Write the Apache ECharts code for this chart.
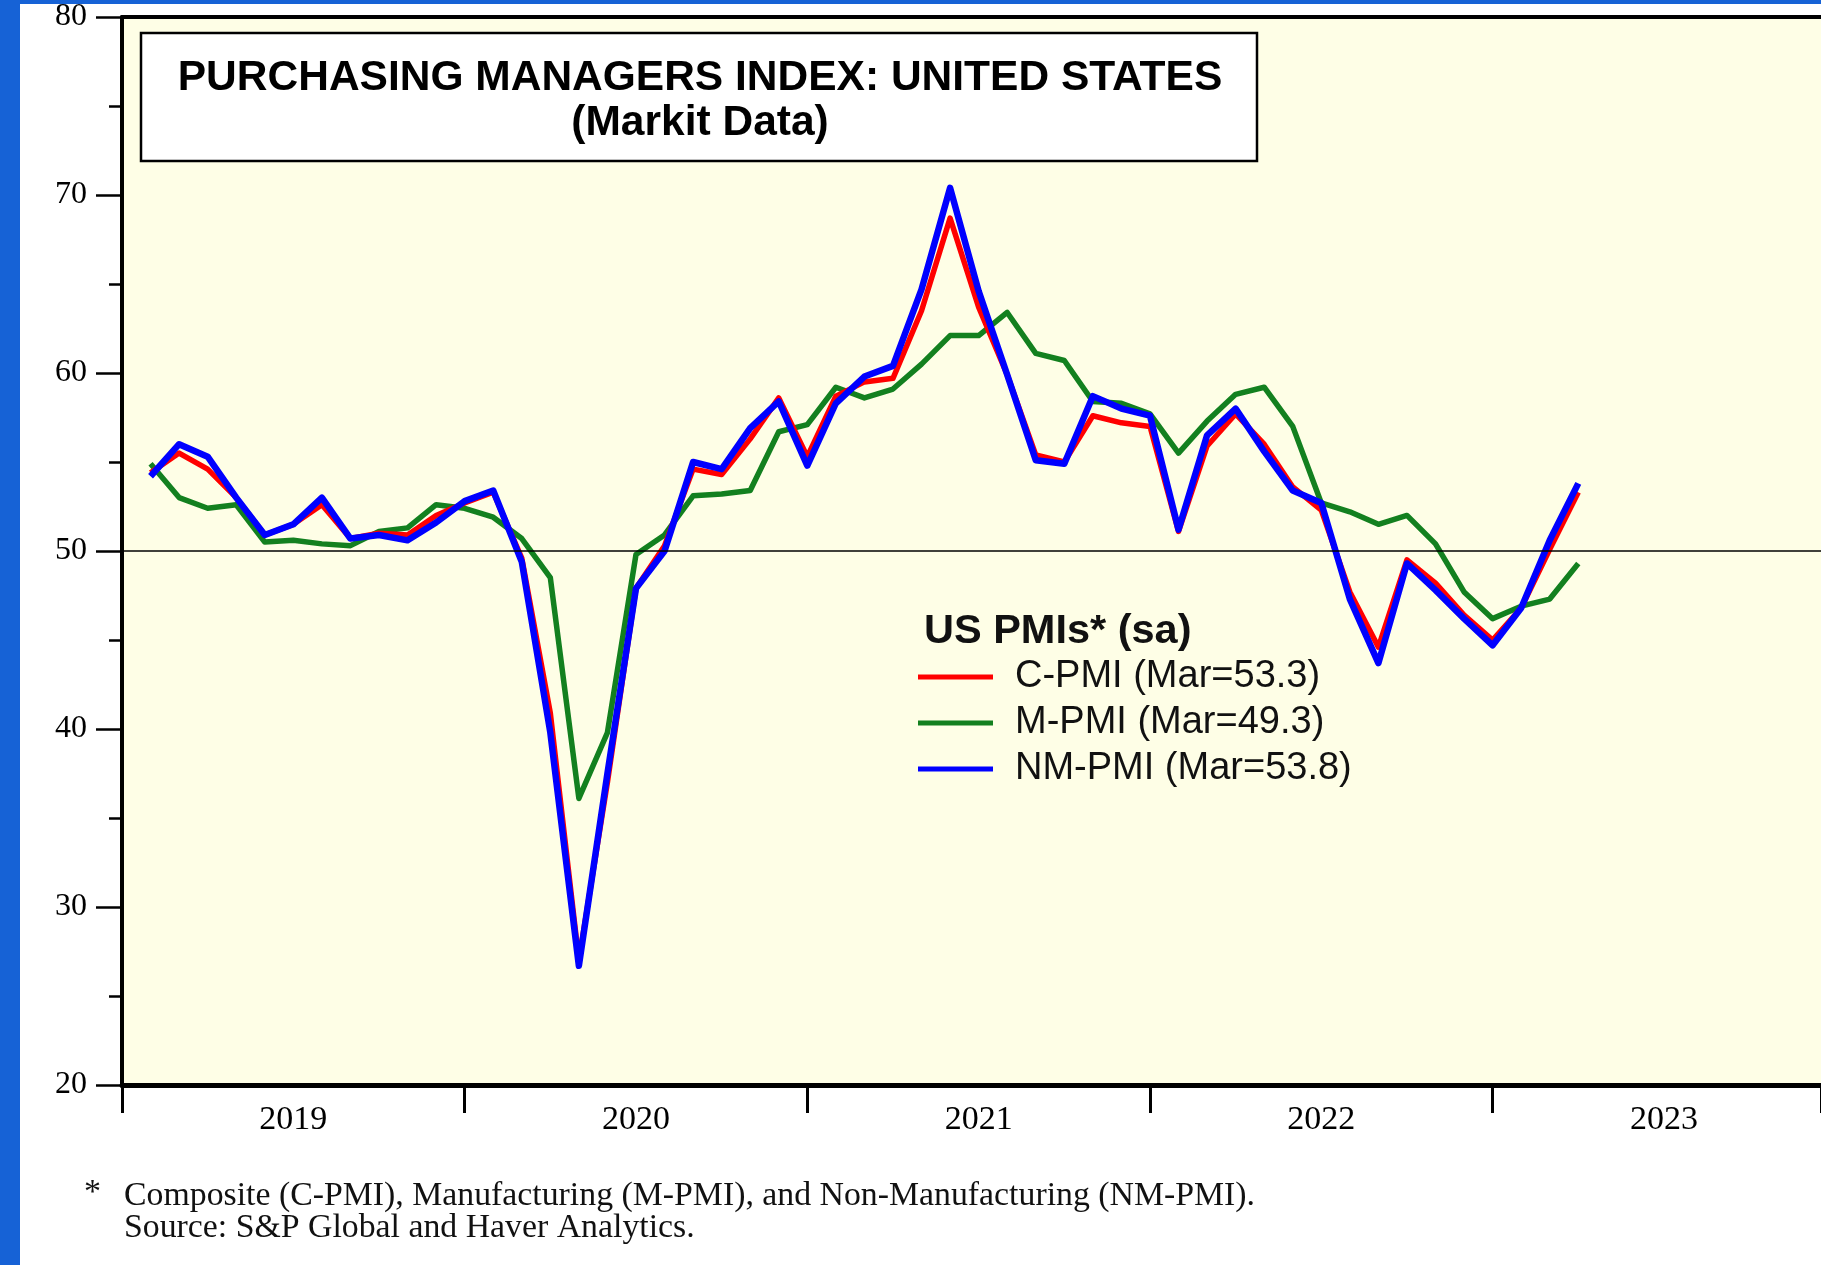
<!DOCTYPE html>
<html>
<head>
<meta charset="utf-8">
<script src="https://cdn.jsdelivr.net/npm/echarts/dist/echarts.min.js"></script>
<style>
html,body{margin:0;padding:0;background:#fff;width:1821px;height:1265px;overflow:hidden;}
#frameL{position:absolute;left:0;top:0;width:20px;height:1265px;background:#1662d6;}
#frameT{position:absolute;left:0;top:0;width:1821px;height:4px;background:#1662d6;}
#chart{position:absolute;left:0;top:0;width:1821px;height:1265px;}
</style>
</head>
<body>
<div id="frameL"></div><div id="frameT"></div><div id="chart"></div>
<script>
// ---- data (monthly, seasonally adjusted) ----
const months = [
  '2019-01','2019-02','2019-03','2019-04','2019-05','2019-06','2019-07','2019-08','2019-09','2019-10','2019-11','2019-12',
  '2020-01','2020-02','2020-03','2020-04','2020-05','2020-06','2020-07','2020-08','2020-09','2020-10','2020-11','2020-12',
  '2021-01','2021-02','2021-03','2021-04','2021-05','2021-06','2021-07','2021-08','2021-09','2021-10','2021-11','2021-12',
  '2022-01','2022-02','2022-03','2022-04','2022-05','2022-06','2022-07','2022-08','2022-09','2022-10','2022-11','2022-12',
  '2023-01','2023-02','2023-03'
];
const compositePMI = [
  54.4, 55.5, 54.6, 53.0, 50.9, 51.5, 52.6, 50.7, 51.0, 50.9, 52.0, 52.7,
  53.3, 49.6, 40.9, 27.0, 37.0, 47.9, 50.3, 54.6, 54.3, 56.3, 58.6, 55.3,
  58.7, 59.5, 59.7, 63.5, 68.7, 63.7, 59.9, 55.4, 55.0, 57.6, 57.2, 57.0,
  51.1, 55.9, 57.7, 56.0, 53.6, 52.3, 47.7, 44.6, 49.5, 48.2, 46.4, 45.0,
  46.8, 50.1, 53.3
];
const manufacturingPMI = [
  54.9, 53.0, 52.4, 52.6, 50.5, 50.6, 50.4, 50.3, 51.1, 51.3, 52.6, 52.4,
  51.9, 50.7, 48.5, 36.1, 39.8, 49.8, 50.9, 53.1, 53.2, 53.4, 56.7, 57.1,
  59.2, 58.6, 59.1, 60.5, 62.1, 62.1, 63.4, 61.1, 60.7, 58.4, 58.3, 57.7,
  55.5, 57.3, 58.8, 59.2, 57.0, 52.7, 52.2, 51.5, 52.0, 50.4, 47.7, 46.2,
  46.9, 47.3, 49.3
];
const nonManufacturingPMI = [
  54.2, 56.0, 55.3, 53.0, 50.9, 51.5, 53.0, 50.7, 50.9, 50.6, 51.6, 52.8,
  53.4, 49.4, 39.8, 26.7, 37.5, 47.9, 50.0, 55.0, 54.6, 56.9, 58.4, 54.8,
  58.3, 59.8, 60.4, 64.7, 70.4, 64.6, 59.9, 55.1, 54.9, 58.7, 58.0, 57.6,
  51.2, 56.5, 58.0, 55.6, 53.4, 52.7, 47.3, 43.7, 49.3, 47.8, 46.2, 44.7,
  46.8, 50.6, 53.8
];
const seriesNames = ['C-PMI (Mar=53.3)', 'M-PMI (Mar=49.3)', 'NM-PMI (Mar=53.8)'];
const yearLabels = ['2019', '2020', '2021', '2022', '2023'];
const yTicks = [20, 30, 40, 50, 60, 70, 80];
const referenceLevel = 50;
const titleLines = ['PURCHASING MANAGERS INDEX: UNITED STATES', '(Markit Data)'];
const legendTitle = 'US PMIs* (sa)';
const footnoteLines = [
  'Composite (C-PMI), Manufacturing (M-PMI), and Non-Manufacturing (NM-PMI).',
  'Source: S&P Global and Haver Analytics.'
];

// month index measured at month end, months since Jan 1 2019
function monthEnd(s) { const p = s.split('-').map(Number); return (p[0] - 2019) * 12 + p[1]; }
function toPairs(vals) { return vals.map((v, i) => [monthEnd(months[i]), v]); }

const chart = echarts.init(document.getElementById('chart'), null, { renderer: 'canvas' });
const X_MAX = 59.5;
const serifFont = '"Liberation Serif", "Times New Roman", serif';
const sansFont = '"Liberation Sans", Arial, Helvetica, sans-serif';

chart.setOption({
  animation: false,
  backgroundColor: 'transparent',
  grid: { left: 122, right: 0, top: 17, bottom: 180, show: true, backgroundColor: '#fefee6', borderWidth: 0 },
  xAxis: [
    {
      type: 'value', position: 'bottom', min: 0, max: X_MAX, interval: 12,
      axisLine: { show: true, lineStyle: { color: '#000', width: 5 } },
      axisTick: { show: true, length: 28, lineStyle: { color: '#000', width: 3 } },
      axisLabel: { show: false }, splitLine: { show: false }
    },
    {
      type: 'value', position: 'bottom', min: 0, max: X_MAX, interval: 6,
      axisLine: { show: false }, axisTick: { show: false }, splitLine: { show: false },
      axisLabel: {
        show: true, margin: 18, color: '#000', fontFamily: serifFont, fontSize: 34,
        showMinLabel: false, showMaxLabel: false,
        formatter: function (v) { return (v % 12 === 6) ? yearLabels[(v - 6) / 12] : ''; }
      }
    },
    {
      type: 'value', position: 'top', min: 0, max: X_MAX,
      axisLine: { show: true, lineStyle: { color: '#000', width: 4 } },
      axisTick: { show: false }, axisLabel: { show: false }, splitLine: { show: false }
    }
  ],
  yAxis: {
    type: 'value', min: yTicks[0], max: yTicks[yTicks.length - 1], interval: 10, position: 'left',
    axisLine: { show: true, lineStyle: { color: '#000', width: 4 } },
    axisTick: { show: true, length: 26, lineStyle: { color: '#000', width: 2.5 } },
    minorTick: { show: true, splitNumber: 2, length: 13, lineStyle: { color: '#000', width: 2.5 } },
    axisLabel: { margin: 35, color: '#000', fontFamily: serifFont, fontSize: 32 },
    splitLine: { show: false }
  },
  legend: {
    data: seriesNames, orient: 'vertical', left: 918, top: 654, padding: 0, itemGap: 0,
    itemWidth: 75, itemHeight: 5, icon: 'rect', selectedMode: false,
    textStyle: { fontFamily: sansFont, fontSize: 38, color: '#111', lineHeight: 46, padding: [0, 0, 0, 17] }
  },
  series: [
    {
      name: seriesNames[1], type: 'line', data: toPairs(manufacturingPMI), symbol: 'none',
      color: '#13801f', lineStyle: { width: 5.5, color: '#13801f', join: 'round' }, z: 2,
      markLine: {
        silent: true, symbol: 'none', label: { show: false },
        lineStyle: { color: '#000', width: 1.6, type: 'solid' },
        data: [{ yAxis: referenceLevel }]
      }
    },
    {
      name: seriesNames[0], type: 'line', data: toPairs(compositePMI), symbol: 'none',
      color: '#ff0000', lineStyle: { width: 5.5, color: '#ff0000', join: 'round' }, z: 3
    },
    {
      name: seriesNames[2], type: 'line', data: toPairs(nonManufacturingPMI), symbol: 'none',
      color: '#0000ff', lineStyle: { width: 6.5, color: '#0000ff', join: 'round' }, z: 4
    }
  ],
  graphic: [
    { type: 'rect', z: 100, shape: { x: 141, y: 33, width: 1116, height: 128 },
      style: { fill: '#fff', stroke: '#000', lineWidth: 2.5 } },
    { type: 'text', z: 101, x: 700, y: 78,
      style: { text: titleLines[0], font: 'bold 42.5px ' + sansFont, fill: '#000', align: 'center', verticalAlign: 'middle' } },
    { type: 'text', z: 101, x: 700, y: 123,
      style: { text: titleLines[1], font: 'bold 42.5px ' + sansFont, fill: '#000', align: 'center', verticalAlign: 'middle' } },
    { type: 'text', z: 101, x: 924, y: 632,
      style: { text: legendTitle, font: 'bold 41.5px ' + sansFont, fill: '#111', align: 'left', verticalAlign: 'middle' } },
    { type: 'text', z: 101, x: 84, y: 1193,
      style: { text: '*', font: '34px ' + serifFont, fill: '#111', align: 'left', verticalAlign: 'middle' } },
    { type: 'text', z: 101, x: 124, y: 1196,
      style: { text: footnoteLines[0], font: '33.8px ' + serifFont, fill: '#111', align: 'left', verticalAlign: 'middle' } },
    { type: 'text', z: 101, x: 124, y: 1228,
      style: { text: footnoteLines[1], font: '33.8px ' + serifFont, fill: '#111', align: 'left', verticalAlign: 'middle' } }
  ]
});
</script>
</body>
</html>
